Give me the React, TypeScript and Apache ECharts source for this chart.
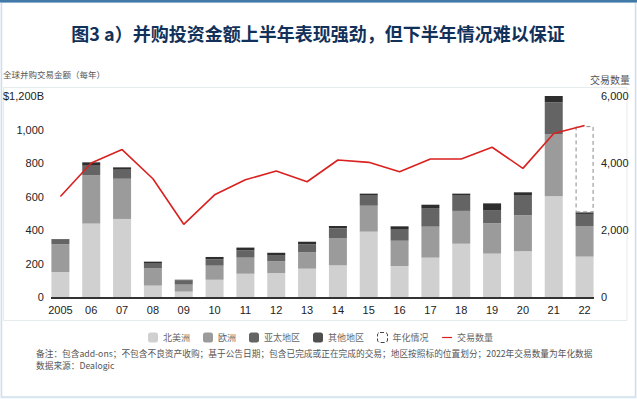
import React, { useEffect, useRef } from "react";
import * as echarts from "echarts";

const years = ["2005", "06", "07", "08", "09", "10", "11", "12", "13", "14", "15", "16", "17", "18", "19", "20", "21", "22"];
const northAmerica = [150, 438, 466, 68, 32, 103, 139, 143, 169, 189, 390, 185, 235, 318, 259, 273, 601, 241];
const europe = [165, 290, 240, 103, 42, 84, 96, 70, 98, 163, 155, 151, 185, 196, 181, 215, 372, 183];
const asiaPacific = [28, 56, 54, 28, 26, 38, 44, 34, 48, 58, 60, 66, 111, 95, 79, 117, 189, 72];
const otherRegions = [3, 20, 14, 12, 3, 14, 16, 17, 15, 14, 12, 20, 20, 8, 40, 20, 38, 9];
const annualized = [null, null, null, null, null, null, null, null, null, null, null, null, null, null, null, null, null, 515];
const dealCount = [3000, 4000, 4400, 3530, 2170, 3050, 3500, 3760, 3440, 4090, 4020, 3740, 4120, 4120, 4470, 3840, 4880, 5120];

const leftTicks = [0, 200, 400, 600, 800, 1000, 1200];
const rightTicks = [0, 2000, 4000, 6000];

const titleText = "图3 a）并购投资金额上半年表现强劲，但下半年情况难以保证";
const leftAxisTitle = "全球并购交易金额（每年）";
const rightAxisTitle = "交易数量";
const noteLine1 = "备注：包含add-ons；不包含不良资产收购；基于公告日期；包含已完成或正在完成的交易；地区按照标的位置划分；2022年交易数量为年化数据";
const noteLine2 = "数据来源：Dealogic";

const CJK = "'Noto Sans CJK SC', 'Noto Sans', sans-serif";
const NUM = "'Liberation Sans', Arial, sans-serif";

export default function App() {
  const ref = useRef<HTMLDivElement>(null);
  useEffect(() => {
    if (!ref.current) return;
    const chart = echarts.init(ref.current, null, { renderer: "svg" });
    const fmt = (v: number) => v.toLocaleString("en-US");
    const barBase = { type: "bar", stack: "total", barWidth: 18, xAxisIndex: 0, yAxisIndex: 0 };
    chart.setOption({
      animation: false,
      backgroundColor: "#ffffff",
      textStyle: { fontFamily: CJK },
      grid: { left: 44.5, top: 96, width: 555.5, height: 201, containLabel: false },
      xAxis: {
        type: "category",
        data: years,
        axisLine: { show: false },
        axisTick: { show: false },
        axisLabel: { interval: 0, margin: 7, color: "#222", fontSize: 11, fontFamily: NUM },
      },
      yAxis: [
        {
          type: "value",
          min: leftTicks[0],
          max: leftTicks[leftTicks.length - 1],
          interval: 200,
          splitLine: { show: false },
          axisLine: { show: false },
          axisTick: { show: false },
          axisLabel: {
            margin: 1,
            color: "#222",
            fontSize: 11,
            fontFamily: NUM,
            formatter: (v: number) => (v === 1200 ? "$" + fmt(v) + "B" : fmt(v)),
          },
        },
        {
          type: "value",
          min: rightTicks[0],
          max: rightTicks[rightTicks.length - 1],
          interval: 2000,
          position: "right",
          splitLine: { show: false },
          axisLine: { show: false },
          axisTick: { show: false },
          axisLabel: { margin: 1, color: "#222", fontSize: 11, fontFamily: NUM, formatter: (v: number) => fmt(v) },
        },
      ],
      legend: {
        left: 143,
        top: 327,
        itemWidth: 10,
        itemHeight: 10,
        itemGap: 13,
        lineStyle: { width: 1.2 },
        textStyle: { color: "#666", fontSize: 9, fontFamily: CJK },
        data: [
          { name: "北美洲" },
          { name: "欧洲" },
          { name: "亚太地区" },
          { name: "其他地区", itemStyle: { color: "#4f4f4f" } },
          { name: "年化情况", itemStyle: { color: "#ffffff", borderColor: "#444", borderType: "dashed", borderWidth: 1 } },
          { name: "交易数量", itemStyle: { opacity: 0 } },
        ],
      },
      series: [
        { ...barBase, name: "北美洲", data: northAmerica, itemStyle: { color: "#d0d0d0" } },
        { ...barBase, name: "欧洲", data: europe, itemStyle: { color: "#9b9b9b" } },
        { ...barBase, name: "亚太地区", data: asiaPacific, itemStyle: { color: "#646464" } },
        { ...barBase, name: "其他地区", data: otherRegions, itemStyle: { color: "#2e2e2e" } },
        {
          ...barBase,
          name: "年化情况",
          data: annualized,
          itemStyle: { color: "rgba(255,255,255,0)", borderColor: "#8a8a8a", borderType: [4, 3], borderWidth: 1 },
        },
        {
          type: "line",
          name: "交易数量",
          yAxisIndex: 1,
          data: dealCount,
          symbol: "none",
          showSymbol: false,
          color: "#d9211f",
          lineStyle: { color: "#d9211f", width: 1.6 },
          itemStyle: { color: "#d9211f" },
          z: 5,
        },
      ],
      graphic: [
        { type: "rect", z: -10, shape: { x: 0, y: 0, width: 637, height: 399 }, style: { fill: "#f6f9fb" } },
        { type: "rect", z: -9, shape: { x: 1.5, y: 2, width: 634, height: 395 }, style: { fill: "#ffffff", stroke: "#cfe0ea", lineWidth: 1.5 } },
        { type: "rect", z: -8, shape: { x: 0, y: 0, width: 637, height: 2.5 }, style: { fill: "#4179a8" } },
        { type: "rect", z: -7, shape: { x: 3.5, y: 87.5, width: 623.5, height: 233 }, style: { fill: "#ffffff", stroke: "#e6ebee", lineWidth: 1 } },
        {
          type: "text",
          z: 10,
          x: 318,
          y: 33,
          style: { text: titleText, fill: "#12315a", font: `bold 18px ${CJK}`, align: "center", verticalAlign: "middle" },
        },
        {
          type: "text",
          z: 10,
          x: 3,
          y: 74,
          style: { text: leftAxisTitle, fill: "#555", font: `8.5px ${CJK}`, align: "left", verticalAlign: "middle" },
        },
        {
          type: "text",
          z: 10,
          x: 630,
          y: 79,
          style: { text: rightAxisTitle, fill: "#555", font: `10px ${CJK}`, align: "right", verticalAlign: "middle" },
        },
        { type: "line", z: 10, shape: { x1: 51, y1: 298, x2: 594, y2: 298 }, style: { stroke: "#333", lineWidth: 2 } },
        {
          type: "text",
          z: 10,
          x: 36,
          y: 353,
          style: { text: noteLine1, fill: "#555", font: `8.7px ${CJK}`, align: "left", verticalAlign: "middle" },
        },
        {
          type: "text",
          z: 10,
          x: 36,
          y: 365,
          style: { text: noteLine2, fill: "#555", font: `8.7px ${CJK}`, align: "left", verticalAlign: "middle" },
        },
      ],
    });
    return () => chart.dispose();
  }, []);
  return <div ref={ref} style={{ position: "absolute", left: 0, top: 0, width: 637, height: 399 }} />;
}
